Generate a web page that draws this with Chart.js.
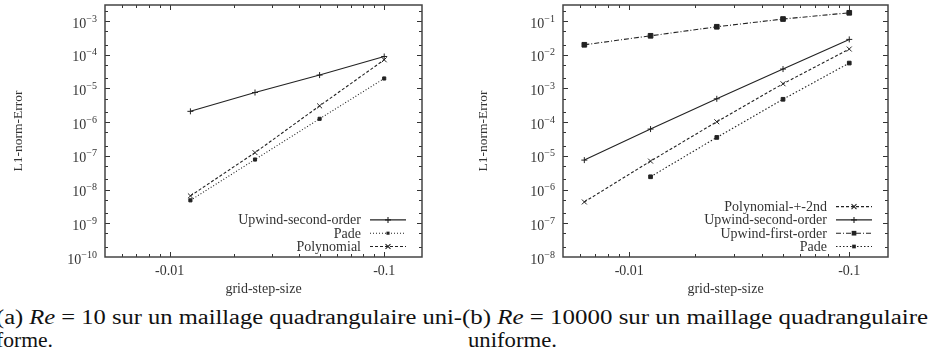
<!DOCTYPE html>
<html>
<head>
<meta charset="utf-8">
<script src="https://cdn.jsdelivr.net/npm/chart.js@4.4.1/dist/chart.umd.min.js"></script>
<style>
  body { margin: 0; background: #fff; width: 931px; height: 356px; overflow: hidden; position: relative; font-family: "Liberation Serif", "Times New Roman", Tinos, "DejaVu Serif", serif; }
  #chartA { position: absolute; left: 0; top: 0; }
  #chartB { position: absolute; left: 465px; top: 0; }
  .cap { position: absolute; font-size: 20px; color: #111; white-space: nowrap; transform-origin: 0 0; line-height: 1; }
</style>
</head>
<body>
<canvas id="chartA" width="465" height="300"></canvas>
<canvas id="chartB" width="466" height="300"></canvas>

<div class="cap" data-w="466" style="left:-4px; top:307px;">(a) <i>Re</i> = 10 sur un maillage quadrangulaire uni-</div>
<div class="cap" data-w="57" style="left:-4px; top:330px;">forme.</div>
<div class="cap" data-w="466" style="left:462px; top:307px;">(b) <i>Re</i> = 10000 sur un maillage quadrangulaire</div>
<div class="cap" data-w="89" style="left:468px; top:330px;">uniforme.</div>

<script>
// pas de grille (h) et valeurs
const stepsA = [0.0125, 0.025, 0.05, 0.1];
const upwind2A = [2.1e-6, 7.6e-6, 2.5e-5, 8.9e-5];
const padeA = [4.8e-9, 7.8e-8, 1.26e-6, 1.98e-5];
const polyA = [6.5e-9, 1.25e-7, 3.05e-6, 7.1e-5];

const stepsB = [0.00625, 0.0125, 0.025, 0.05, 0.1];
const poly2B = [4.3e-7, 7.0e-6, 1.03e-4, 1.38e-3, 1.48e-2];
const upwind2B = [7.5e-6, 6.25e-5, 4.94e-4, 3.77e-3, 2.86e-2];
const upwind1B = [1.98e-2, 3.66e-2, 6.78e-2, 1.15e-1, 1.76e-1];
const padeB = [null, 2.4e-6, 3.53e-5, 4.78e-4, 5.68e-3];

// graduations
const xTickVals = [0.01, 0.1];
const xTickLabels = ['-0.01', '-0.1'];
const yExpA = [-10, -9, -8, -7, -6, -5, -4, -3];
const yExpB = [-8, -7, -6, -5, -4, -3, -2, -1];

const INK = '#222';
const TXT = '#333';
const SERIF = '"Liberation Serif", "Times New Roman", Tinos, "DejaVu Serif", serif';

function pts(xs, ys) {
  return xs.map((x, i) => ({ x: x, y: ys[i] })).filter(p => p.y !== null);
}

function drawMarker(ctx, style, r, x, y) {
  ctx.save();
  ctx.setLineDash([]);
  ctx.beginPath();
  if (style === 'cross') {
    ctx.moveTo(x - r, y); ctx.lineTo(x + r, y);
    ctx.moveTo(x, y - r); ctx.lineTo(x, y + r);
    ctx.stroke();
  } else if (style === 'crossRot') {
    const o = r * Math.SQRT1_2;
    ctx.moveTo(x - o, y - o); ctx.lineTo(x + o, y + o);
    ctx.moveTo(x - o, y + o); ctx.lineTo(x + o, y - o);
    ctx.stroke();
  } else {
    const o = r * Math.SQRT1_2;
    ctx.fillRect(x - o, y - o, 2 * o, 2 * o);
  }
  ctx.restore();
}

// cadre façon gnuplot : graduations intérieures, étiquettes 10^n, légende en bas à droite
const gnuFrame = {
  id: 'gnuFrame',
  afterDraw(chart, args, opts) {
    const { ctx, chartArea: a } = chart;
    const x = chart.scales.x, y = chart.scales.y;
    ctx.save();
    ctx.strokeStyle = '#333';
    ctx.lineWidth = 1;

    // graduations x (majeures + mineures)
    for (let d = -3; d <= 0; d++) {
      for (let m = 1; m <= 9; m++) {
        const v = m * Math.pow(10, d);
        if (v <= x.min || v >= x.max) continue;
        const px = Math.round(x.getPixelForValue(v)) + 0.5;
        const len = m === 1 ? 5 : 3;
        ctx.beginPath();
        ctx.moveTo(px, a.bottom); ctx.lineTo(px, a.bottom - len);
        ctx.moveTo(px, a.top); ctx.lineTo(px, a.top + len);
        ctx.stroke();
      }
    }
    // graduations y
    for (let d = -12; d <= 1; d++) {
      for (const m of [1, 2, 5]) {
        const v = m * Math.pow(10, d);
        if (v <= y.min || v >= y.max) continue;
        const py = Math.round(y.getPixelForValue(v)) + 0.5;
        const len = m === 1 ? 5 : 3;
        ctx.beginPath();
        ctx.moveTo(a.left, py); ctx.lineTo(a.left + len, py);
        ctx.moveTo(a.right, py); ctx.lineTo(a.right - len, py);
        ctx.stroke();
      }
    }

    // cadre
    ctx.lineWidth = 1.5;
    ctx.strokeStyle = '#444';
    ctx.strokeRect(a.left, a.top, a.right - a.left, a.bottom - a.top);

    ctx.fillStyle = TXT;
    ctx.textBaseline = 'alphabetic';

    // étiquettes y : 10^exp
    opts.yExps.forEach(e => {
      const py = y.getPixelForValue(Math.pow(10, e));
      const sup = '\u2212' + String(-e);
      ctx.font = '10px ' + SERIF;
      const wSup = ctx.measureText(sup).width;
      const right = a.left - 8;
      ctx.textAlign = 'left';
      ctx.fillText(sup, right - wSup, py + 0.5);
      ctx.font = '14px ' + SERIF;
      ctx.textAlign = 'right';
      ctx.fillText('10', right - wSup, py + 6.5);
    });

    // étiquettes x
    ctx.font = '14px ' + SERIF;
    ctx.textAlign = 'center';
    xTickVals.forEach((v, i) => {
      ctx.fillText(xTickLabels[i], x.getPixelForValue(v), a.bottom + 18);
    });

    // titres des axes
    ctx.fillText('grid-step-size', (a.left + a.right) / 2, a.bottom + 36);
    ctx.save();
    ctx.translate(22, (a.top + a.bottom) / 2);
    ctx.rotate(-Math.PI / 2);
    ctx.font = '13.5px ' + SERIF;
    ctx.fillText('L1-norm-Error', 0, 0);
    ctx.restore();

    // légende
    const ds = chart.data.datasets;
    ctx.font = '14px ' + SERIF;
    ctx.textAlign = 'right';
    ds.forEach((d, i) => {
      const cy = a.bottom - 10.5 - 13.3 * (ds.length - 1 - i);
      ctx.fillStyle = TXT;
      ctx.fillText(d.label, a.right - 61, cy + 4.5);
      ctx.strokeStyle = INK;
      ctx.fillStyle = INK;
      ctx.lineWidth = d.borderWidth;
      ctx.setLineDash(d.borderDash || []);
      ctx.beginPath();
      ctx.moveTo(a.right - 52, cy);
      ctx.lineTo(a.right - 16, cy);
      ctx.stroke();
      drawMarker(ctx, d.pointStyle, d.pointRadius, a.right - 34, cy);
    });
    ctx.restore();
  }
};

function ds(label, data, dash, style, r) {
  return {
    label: label,
    data: data,
    borderColor: INK,
    backgroundColor: INK,
    pointBackgroundColor: INK,
    pointBorderColor: INK,
    borderWidth: 1.1,
    pointBorderWidth: 1,
    borderDash: dash,
    pointStyle: style,
    pointRadius: r,
    showLine: true,
    tension: 0
  };
}

function makeChart(id, datasets, yMin, yMax, yExps, pad) {
  return new Chart(document.getElementById(id), {
    type: 'scatter',
    data: { datasets: datasets },
    options: {
      responsive: false,
      animation: false,
      layout: { padding: pad },
      scales: {
        x: { type: 'logarithmic', min: 0.005, max: 0.15, display: false },
        y: { type: 'logarithmic', min: yMin, max: yMax, display: false }
      },
      plugins: {
        legend: { display: false },
        tooltip: { enabled: false },
        gnuFrame: { yExps: yExps }
      }
    },
    plugins: [gnuFrame]
  });
}

function drawAll() {
  makeChart('chartA', [
    ds('Upwind-second-order', pts(stepsA, upwind2A), [], 'cross', 3),
    ds('Pade', pts(stepsA, padeA), [1, 2], 'rect', 2.2),
    ds('Polynomial', pts(stepsA, polyA), [3, 2], 'crossRot', 3.5)
  ], 1e-10, 3e-3, yExpA, { left: 105, right: 43, top: 5, bottom: 43 });

  makeChart('chartB', [
    ds('Polynomial-+-2nd', pts(stepsB, poly2B), [3, 2], 'crossRot', 3.5),
    ds('Upwind-second-order', pts(stepsB, upwind2B), [], 'cross', 3),
    ds('Upwind-first-order', pts(stepsB, upwind1B), [5, 2, 1, 2], 'rect', 3.3),
    ds('Pade', pts(stepsB, padeB), [1.5, 2], 'rect', 2.6)
  ], 1e-8, 0.3, yExpB, { left: 98, right: 43, top: 5, bottom: 43 });

  // ajuste la largeur des légendes de sous-figure
  document.querySelectorAll('.cap').forEach(el => {
    const w = el.getBoundingClientRect().width;
    const target = parseFloat(el.dataset.w);
    el.style.transform = 'scaleX(' + (target / w) + ')';
  });
}

// charge la police avant de dessiner sur le canvas
if (document.fonts && document.fonts.load) {
  Promise.all([
    document.fonts.load('14px "Liberation Serif"'),
    document.fonts.load('italic 20px "Liberation Serif"')
  ]).then(drawAll, drawAll);
} else {
  drawAll();
}
</script>
</body>
</html>
